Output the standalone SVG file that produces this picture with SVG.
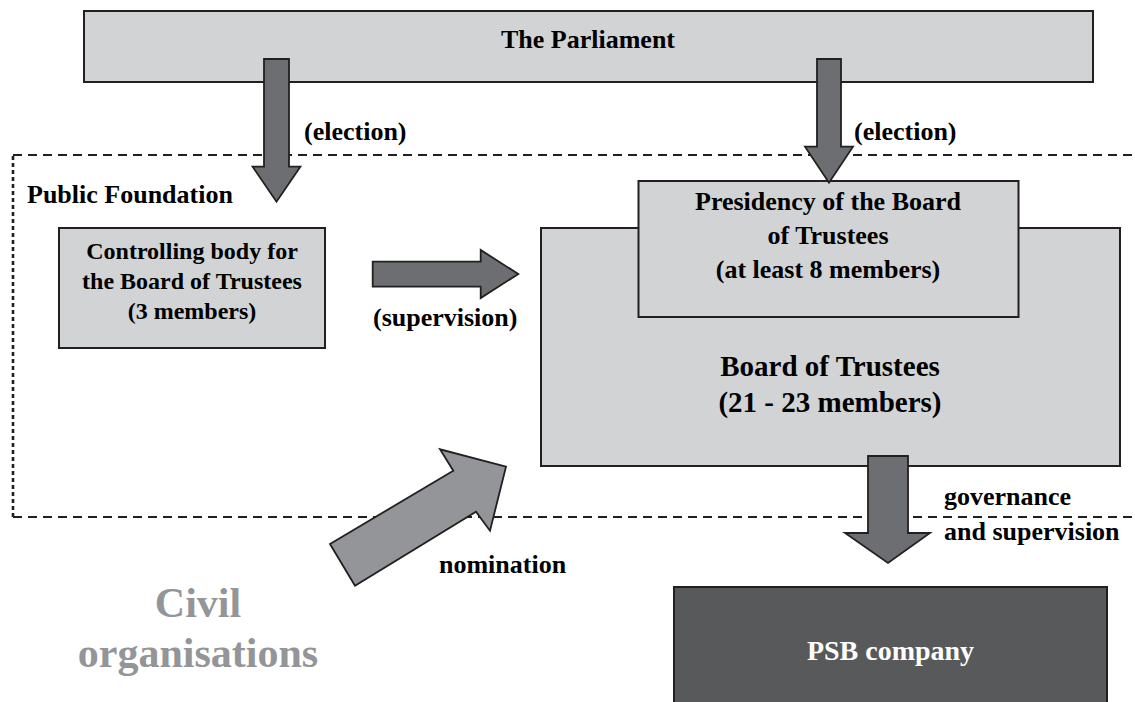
<svg xmlns="http://www.w3.org/2000/svg" width="1135" height="702" viewBox="0 0 1135 702">
<style>
.box{fill:#d1d3d4;stroke:#231f20;stroke-width:2}
.dark{fill:#58595b;stroke:#231f20;stroke-width:2}
.arr{fill:#6d6e71;stroke:#231f20;stroke-width:1.8;stroke-linejoin:miter}
.arr2{fill:#939598;stroke:#231f20;stroke-width:1.8}
.dash{fill:none;stroke:#231f20;stroke-width:2;stroke-dasharray:9 6}
.dashv{fill:none;stroke:#231f20;stroke-width:2.6;stroke-dasharray:4 3}
text{font-family:"Liberation Serif","Times New Roman",serif;font-weight:bold;fill:#000}
.c{text-anchor:middle}
.t24{font-size:24px}
.t26{font-size:26px}
.t29{font-size:29px}
</style>
<rect width="1135" height="702" fill="#fff"/>
<g id="public-foundation">
<line class="dash" x1="13" y1="155" x2="1140" y2="155"/>
<line class="dash" x1="13" y1="517" x2="1140" y2="517"/>
<line class="dashv" x1="13" y1="156" x2="13" y2="517"/>
<text class="t26" x="27" y="203">Public Foundation</text>
</g>
<g id="parliament">
<rect class="box" x="84" y="11" width="1009" height="71"/>
<text class="t26 c" x="588" y="48">The Parliament</text>
</g>
<g id="controlling-body">
<rect class="box" x="59" y="228" width="266" height="120"/>
<text class="t24 c" x="192" y="259">Controlling body for</text>
<text class="t24 c" x="192" y="289">the Board of Trustees</text>
<text class="t24 c" x="192" y="319">(3 members)</text>
</g>
<g id="board">
<rect class="box" x="541" y="228" width="579" height="238"/>
<text class="t29 c" x="830" y="376">Board of Trustees</text>
<text class="t29 c" x="830" y="412">(21 - 23 members)</text>
</g>
<g id="presidency">
<rect class="box" x="638.5" y="181" width="380" height="136"/>
<text class="t26 c" x="828" y="210">Presidency of the Board</text>
<text class="t26 c" x="828" y="244">of Trustees</text>
<text class="t26 c" x="828" y="278">(at least 8 members)</text>
</g>
<g id="psb">
<rect class="dark" x="674" y="587" width="433" height="130"/>
<text class="c" x="890.5" y="660" style="font-size:28px;fill:#fff">PSB company</text>
</g>
<g id="civil">
<text class="c" x="198" y="617" style="font-size:42px;fill:#939598">Civil</text>
<text class="c" x="198" y="667" style="font-size:42px;fill:#939598">organisations</text>
</g>
<g id="connectors">
<polygon class="arr" points="264,59 289,59 289,166.7 300.4,166.7 276.5,201.7 252.6,166.7 264,166.7"/>
<polygon class="arr" points="817,59 841,59 841,146.7 853,146.7 829,182.7 805,146.7 817,146.7"/>
<polygon class="arr" points="372.7,261.7 480.7,261.7 480.7,250 518.3,274 480.7,298 480.7,286.7 372.7,286.7"/>
<polygon class="arr2" points="330,544 453.3,470.7 440,449.3 506,466.7 490,530.7 476,511.7 355,585.7"/>
<polygon class="arr" points="868,456 908,456 908,533 930,533 888,563 845,533 868,533"/>
<text class="t26" x="304" y="140">(election)</text>
<text class="t26" x="854" y="140">(election)</text>
<text class="t26" x="373" y="326">(supervision)</text>
<text class="t26" x="439" y="573">nomination</text>
<text class="t26" x="944" y="505">governance</text>
<text class="t26" x="944" y="540">and supervision</text>
</g>
</svg>
